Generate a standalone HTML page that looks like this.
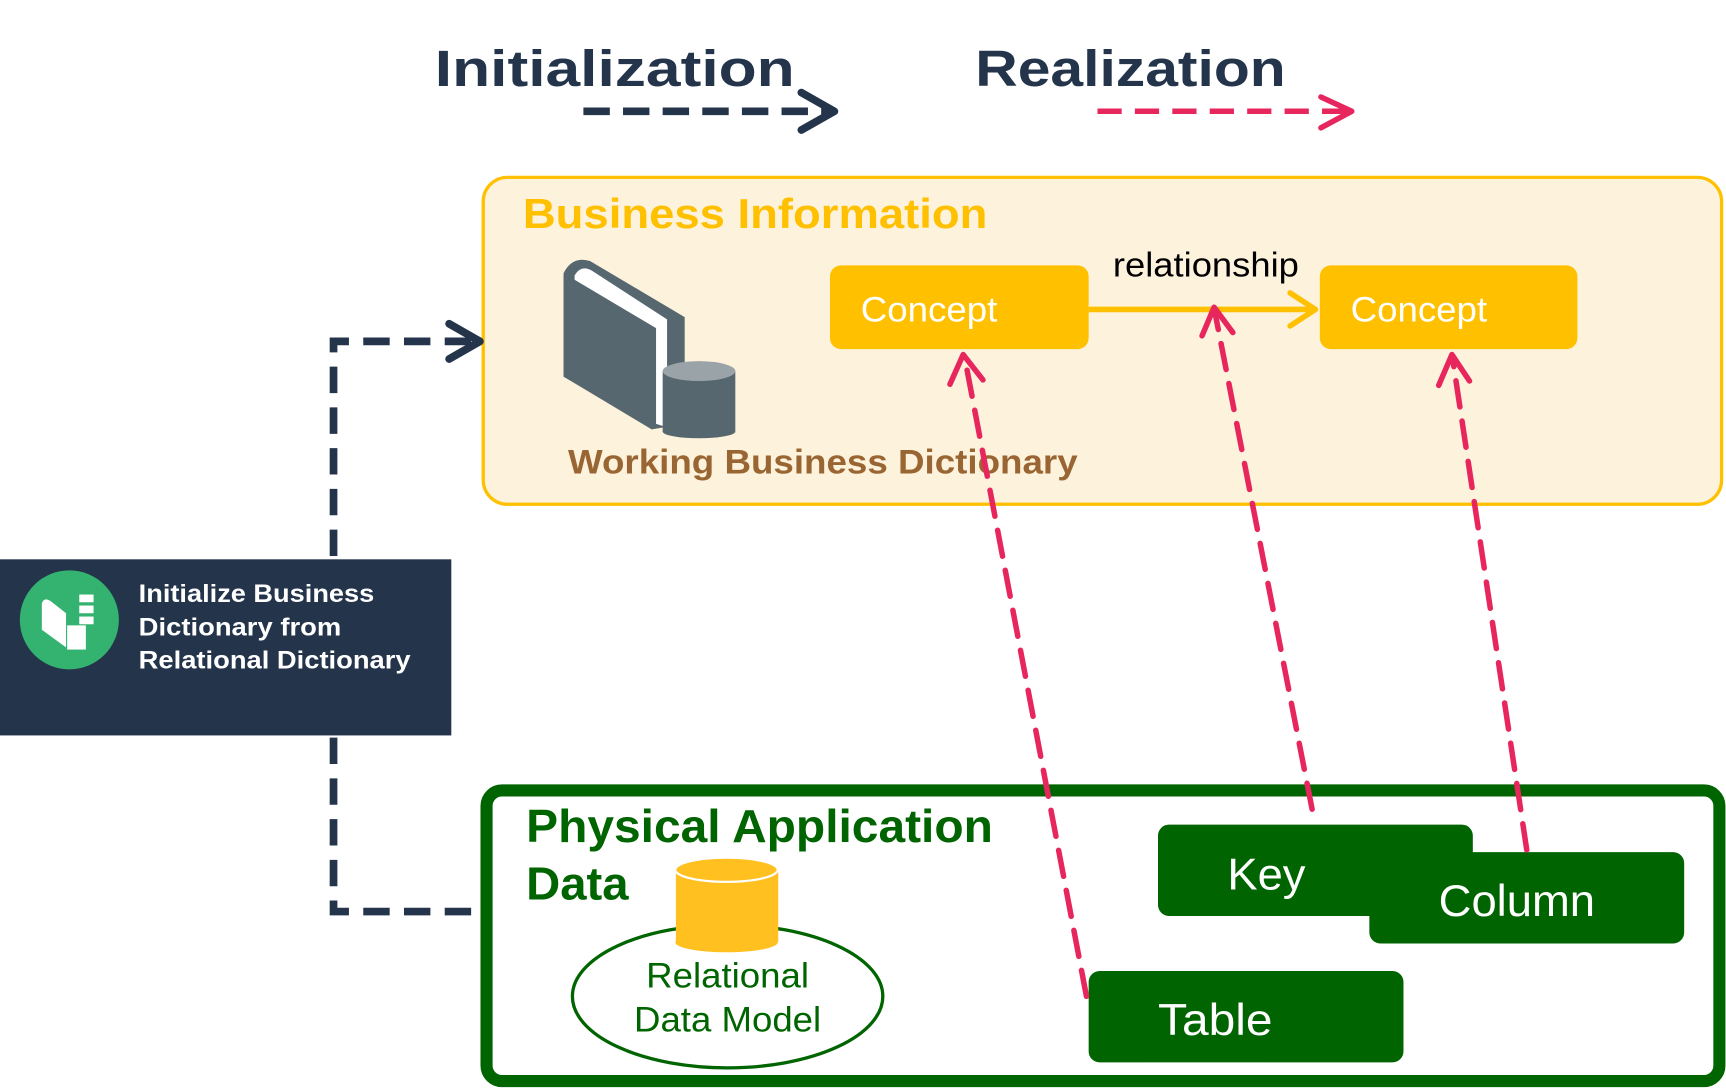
<!DOCTYPE html>
<html><head><meta charset="utf-8"><style>
html,body{margin:0;padding:0;background:#fff;}
svg{display:block;}
text{font-family:"Liberation Sans",sans-serif;}
</style></head><body>
<svg width="1726" height="1090" viewBox="0 0 1568 990" xmlns="http://www.w3.org/2000/svg">
<!-- legend -->
<text x="395" y="78" font-size="46" font-weight="bold" fill="#23344b" textLength="327" lengthAdjust="spacingAndGlyphs">Initialization</text>
<text x="886" y="78" font-size="46" font-weight="bold" fill="#23344b" textLength="282" lengthAdjust="spacingAndGlyphs">Realization</text>
<line x1="530" y1="101" x2="755" y2="101" stroke="#23344b" stroke-width="7" stroke-dasharray="24,12"/>
<polyline points="728,84 758,101 728,118" fill="none" stroke="#23344b" stroke-width="7" stroke-linecap="round" stroke-linejoin="round"/>
<line x1="997" y1="101" x2="1225" y2="101" stroke="#e8265e" stroke-width="5" stroke-dasharray="22,12"/>
<polyline points="1200,88 1228,101 1200,116" fill="none" stroke="#e8265e" stroke-width="5" stroke-linecap="round" stroke-linejoin="round"/>

<!-- business info box -->
<rect x="439" y="161" width="1125" height="297" rx="22" fill="#fdf2dc" stroke="#ffc000" stroke-width="3"/>
<text x="475" y="207" font-size="38" font-weight="bold" fill="#ffc000" textLength="422" lengthAdjust="spacingAndGlyphs">Business Information</text>
<!-- book -->
<path d="M512,248 Q520,232 536,237 L622,288 L622,385 L592,390 L512,342 Z" fill="#56676f"/>
<path d="M522,250 Q528,240 538,246 L606,290 L606,388 L596,385 L596,298 L522,254 Z" fill="#fff"/>
<path d="M512,250 L512,342 L590,388 L590,300 Z" fill="#56676f"/>
<rect x="602" y="337" width="66" height="55" fill="#56676f"/>
<ellipse cx="635" cy="392" rx="33" ry="6" fill="#56676f"/>
<ellipse cx="635" cy="337" rx="33" ry="9" fill="#9aa3a8"/>
<text x="516" y="430" font-size="31" font-weight="bold" fill="#996633" textLength="463" lengthAdjust="spacingAndGlyphs">Working Business Dictionary</text>

<rect x="754" y="241" width="235" height="76" rx="10" fill="#ffc000"/>
<text x="782" y="292" font-size="32" fill="#fff" textLength="124" lengthAdjust="spacingAndGlyphs">Concept</text>
<rect x="1199" y="241" width="234" height="76" rx="10" fill="#ffc000"/>
<text x="1227" y="292" font-size="32" fill="#fff" textLength="124" lengthAdjust="spacingAndGlyphs">Concept</text>
<line x1="989" y1="281" x2="1192" y2="281" stroke="#ffc000" stroke-width="5"/>
<polyline points="1172,266 1195,281 1172,296" fill="none" stroke="#ffc000" stroke-width="5" stroke-linecap="round" stroke-linejoin="round"/>
<text x="1011" y="251" font-size="31" fill="#000" textLength="169" lengthAdjust="spacingAndGlyphs">relationship</text>

<!-- physical box -->
<rect x="442" y="718" width="1120" height="264" rx="14" fill="#fff" stroke="#006400" stroke-width="11"/>
<text x="478" y="765" font-size="42" font-weight="bold" fill="#006400" textLength="424" lengthAdjust="spacingAndGlyphs">Physical Application</text>
<text x="478" y="817" font-size="42" font-weight="bold" fill="#006400" textLength="93" lengthAdjust="spacingAndGlyphs">Data</text>
<ellipse cx="661" cy="905" rx="141" ry="65" fill="#fff" stroke="#006400" stroke-width="3"/>
<rect x="614" y="790" width="93" height="66" fill="#ffc020"/>
<ellipse cx="660" cy="856" rx="46.5" ry="9" fill="#ffc020"/>
<ellipse cx="660" cy="790" rx="46.5" ry="11" fill="#ffc020" stroke="#fff" stroke-width="2"/>
<text x="661" y="897" font-size="32" fill="#006400" text-anchor="middle" textLength="148" lengthAdjust="spacingAndGlyphs">Relational</text>
<text x="661" y="937" font-size="32" fill="#006400" text-anchor="middle" textLength="170" lengthAdjust="spacingAndGlyphs">Data Model</text>

<rect x="1052" y="749" width="286" height="83" rx="10" fill="#006400"/>
<text x="1115" y="808" font-size="40" fill="#fff" textLength="71" lengthAdjust="spacingAndGlyphs">Key</text>
<rect x="1244" y="774" width="286" height="83" rx="10" fill="#006400"/>
<text x="1307" y="832" font-size="40" fill="#fff" textLength="142" lengthAdjust="spacingAndGlyphs">Column</text>
<rect x="989" y="882" width="286" height="83" rx="10" fill="#006400"/>
<text x="1052" y="940" font-size="40" fill="#fff" textLength="104" lengthAdjust="spacingAndGlyphs">Table</text>

<!-- realization arrows -->
<g stroke="#e8265e" stroke-width="5" fill="none" stroke-linecap="round" stroke-linejoin="round">
<line x1="987" y1="905" x2="877" y2="328" stroke-dasharray="24,13"/>
<polyline points="863,349 875,322 893,345"/>
<line x1="1192" y1="735" x2="1104" y2="285" stroke-dasharray="24,13"/>
<polyline points="1092,305 1103,279 1120,302"/>
<line x1="1387" y1="772" x2="1320" y2="328" stroke-dasharray="24,13"/>
<polyline points="1307,350 1319,322 1335,346"/>
</g>

<!-- initialization connectors -->
<g stroke="#23344b" stroke-width="7" fill="none">
<polyline points="303,505 303,310 432,310" stroke-dasharray="24,13"/>
<polyline points="303,670 303,828 436,828" stroke-dasharray="24,13"/>
<polyline points="408,294 436,310 408,326" stroke-linecap="round" stroke-linejoin="round"/>
</g>

<!-- init box -->
<rect x="0" y="508" width="410" height="160" fill="#23344b"/>
<circle cx="63" cy="563" r="45" fill="#33b36f"/>
<path d="M38,548 Q40,542 46,546 L60,557 L60,588 L38,572 Z" fill="#fff"/>
<rect x="61" y="568" width="17" height="22" fill="#fff"/>
<rect x="72" y="540" width="13" height="7" fill="#fff"/>
<rect x="72" y="550" width="13" height="7" fill="#fff"/>
<rect x="72" y="560" width="13" height="7" fill="#fff"/>
<text x="126" y="547" font-size="23" font-weight="bold" fill="#fff" textLength="214" lengthAdjust="spacingAndGlyphs">Initialize Business</text>
<text x="126" y="577" font-size="23" font-weight="bold" fill="#fff" textLength="184" lengthAdjust="spacingAndGlyphs">Dictionary from</text>
<text x="126" y="607" font-size="23" font-weight="bold" fill="#fff" textLength="247" lengthAdjust="spacingAndGlyphs">Relational Dictionary</text>
</svg>
</body></html>
